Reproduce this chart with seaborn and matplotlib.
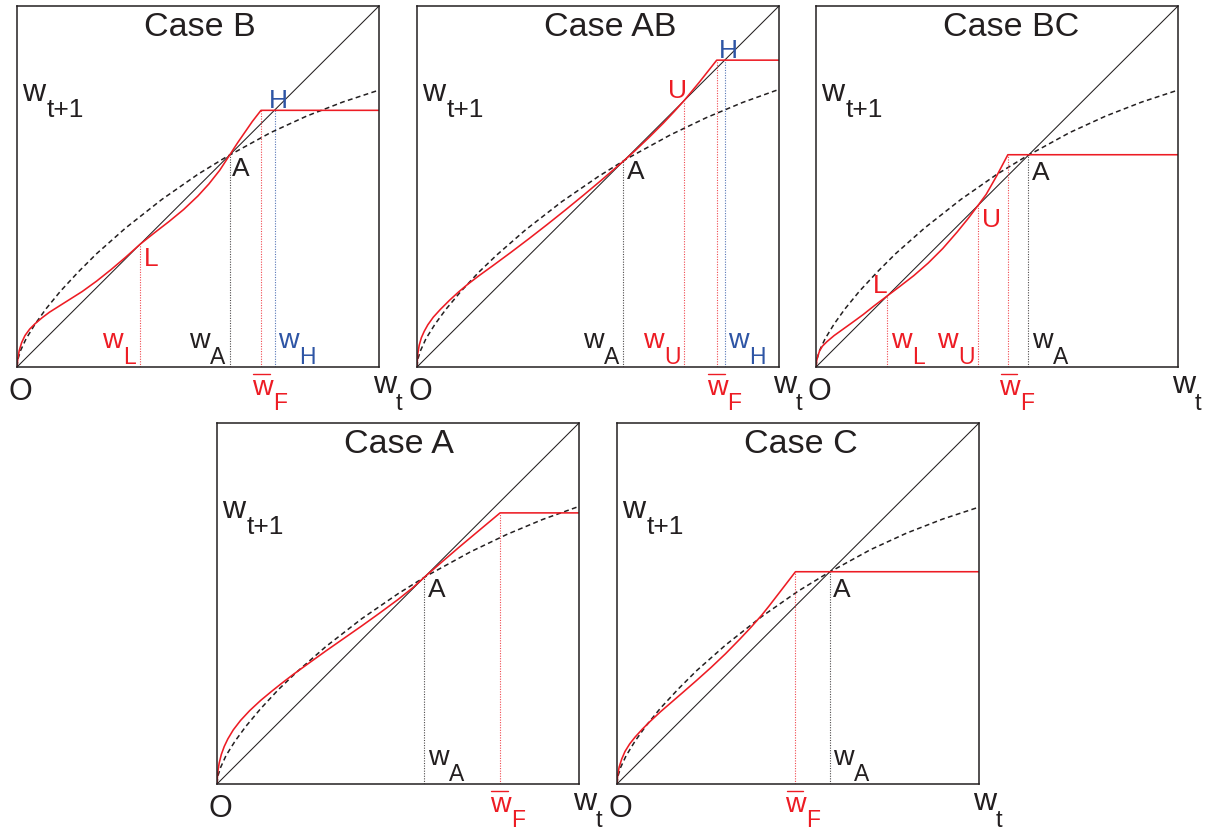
import matplotlib
matplotlib.use("Agg")
import matplotlib.pyplot as plt
import seaborn as sns

sns.set_theme(style="white")
plt.rcParams['font.family'] = ['Liberation Sans', 'DejaVu Sans']

RED = "#ed1c24"
BLUE = "#2e55a5"
INK = "#231f20"

# 45 degree line and the dashed benchmark map
diag_x = [0.0, 1.0]
diag_y = [0.0, 1.0]
dashed_u = [0, 0.003, 0.01, 0.025, 0.05, 0.08, 0.12, 0.17, 0.22, 0.3, 0.4, 0.5, 0.58, 0.7, 0.8, 0.9, 1.0]
dashed_hi = [0, 0.023, 0.046, 0.078, 0.119, 0.161, 0.210, 0.264, 0.314, 0.385, 0.464, 0.534, 0.583, 0.649, 0.695, 0.734, 0.767]
dashed_lo = [0, 0.024, 0.046, 0.079, 0.119, 0.160, 0.208, 0.262, 0.310, 0.380, 0.458, 0.527, 0.577, 0.643, 0.691, 0.733, 0.769]

# red maps, one per case
red_B_x = [0, 0.002, 0.006, 0.013, 0.022, 0.035, 0.05, 0.07, 0.09, 0.12, 0.15, 0.18, 0.22, 0.26, 0.30,
           0.34, 0.38, 0.42, 0.46, 0.50, 0.53, 0.56, 0.588, 0.61, 0.63, 0.65, 0.674, 1.0]
red_B_y = [0, 0.02, 0.045, 0.068, 0.087, 0.105, 0.12, 0.137, 0.152, 0.171, 0.19, 0.209, 0.238, 0.27, 0.304,
           0.34, 0.372, 0.403, 0.436, 0.474, 0.507, 0.545, 0.588, 0.622, 0.651, 0.68, 0.711, 0.711]

red_AB_x = [0, 0.002, 0.006, 0.012, 0.02, 0.03, 0.045, 0.065, 0.09, 0.115, 0.14, 0.17, 0.21, 0.26, 0.31,
            0.36, 0.41, 0.46, 0.51, 0.54, 0.57, 0.6, 0.64, 0.68, 0.71, 0.737, 0.78, 0.828, 1.0]
red_AB_y = [0, 0.035, 0.06, 0.081, 0.099, 0.117, 0.138, 0.16, 0.185, 0.208, 0.229, 0.252, 0.281, 0.318, 0.356,
            0.395, 0.435, 0.476, 0.518, 0.544, 0.57, 0.597, 0.635, 0.675, 0.707, 0.737, 0.789, 0.85, 0.85]

red_BC_x = [0, 0.002, 0.005, 0.01, 0.018, 0.03, 0.05, 0.075, 0.1, 0.13, 0.16, 0.197, 0.23, 0.27, 0.31,
            0.35, 0.39, 0.42, 0.4475, 0.47, 0.5, 0.53, 1.0]
red_BC_y = [0, 0.018, 0.03, 0.045, 0.058, 0.07, 0.087, 0.105, 0.123, 0.145, 0.169, 0.197, 0.222, 0.253, 0.288,
            0.328, 0.374, 0.411, 0.4475, 0.478, 0.531, 0.588, 0.588]

red_A_x = [0, 0.002, 0.006, 0.012, 0.02, 0.03, 0.045, 0.065, 0.09, 0.12, 0.15, 0.18, 0.21, 0.25, 0.3,
           0.35, 0.4, 0.45, 0.5, 0.54, 0.573, 0.62, 0.67, 0.72, 0.782, 1.0]
red_A_y = [0, 0.032, 0.058, 0.082, 0.104, 0.125, 0.15, 0.176, 0.203, 0.231, 0.256, 0.28, 0.303, 0.332, 0.368,
           0.403, 0.438, 0.474, 0.511, 0.543, 0.573, 0.614, 0.657, 0.699, 0.751, 0.751]

red_C_x = [0, 0.002, 0.006, 0.013, 0.022, 0.035, 0.05, 0.07, 0.09, 0.12, 0.15, 0.18, 0.22, 0.26, 0.3,
           0.34, 0.37, 0.4, 0.42, 0.46, 0.493, 1.0]
red_C_y = [0, 0.025, 0.047, 0.069, 0.09, 0.111, 0.13, 0.152, 0.172, 0.2, 0.226, 0.252, 0.287, 0.323, 0.361,
           0.402, 0.434, 0.468, 0.493, 0.545, 0.588, 0.588]

# threshold lines: (x, top, colour)
cut_B = [(0.339, 0.339, RED), (0.588, 0.588, INK), (0.673, 0.711, RED), (0.712, 0.712, BLUE)]
cut_AB = [(0.57, 0.57, INK), (0.737, 0.737, RED), (0.828, 0.85, RED), (0.85, 0.85, BLUE)]
cut_BC = [(0.197, 0.197, RED), (0.4475, 0.4475, RED), (0.53, 0.588, RED), (0.587, 0.588, INK)]
cut_A = [(0.573, 0.573, INK), (0.782, 0.751, RED)]
cut_C = [(0.493, 0.588, RED), (0.588, 0.588, INK)]

W = 1215.0
H = 832.0
panels = [
    dict(title="Case B", box=(17, 367), dashed=dashed_hi, rx=red_B_x, ry=red_B_y, cuts=cut_B,
         wlab=[(0.235, "L", RED), (0.475, "A", INK), (0.721, "H", BLUE)], wf=0.649,
         pts=[(0.594, 0.53, "A", INK), (0.351, 0.279, "L", RED), (0.696, 0.718, "H", BLUE)]),
    dict(title="Case AB", box=(417, 367), dashed=dashed_lo, rx=red_AB_x, ry=red_AB_y, cuts=cut_AB,
         wlab=[(0.459, "A", INK), (0.624, "U", RED), (0.86, "H", BLUE)], wf=0.80,
         pts=[(0.58, 0.522, "A", INK), (0.693, 0.746, "U", RED), (0.834, 0.856, "H", BLUE)]),
    dict(title="Case BC", box=(816, 367), dashed=dashed_hi, rx=red_BC_x, ry=red_BC_y, cuts=cut_BC,
         wlab=[(0.207, "L", RED), (0.334, "U", RED), (0.597, "A", INK)], wf=0.506,
         pts=[(0.597, 0.517, "A", INK), (0.157, 0.204, "L", RED), (0.459, 0.387, "U", RED)]),
    dict(title="Case A", box=(217, 784), dashed=dashed_lo, rx=red_A_x, ry=red_A_y, cuts=cut_A,
         wlab=[(0.583, "A", INK)], wf=0.754,
         pts=[(0.583, 0.517, "A", INK)]),
    dict(title="Case C", box=(617, 784), dashed=dashed_hi, rx=red_C_x, ry=red_C_y, cuts=cut_C,
         wlab=[(0.596, "A", INK)], wf=0.465,
         pts=[(0.596, 0.517, "A", INK)]),
]

fig = plt.figure(figsize=(W / 100, H / 100), dpi=100)
fig.patch.set_facecolor("white")

for p in panels:
    left, bottom = p["box"]
    ax = fig.add_axes([left / W, (H - bottom) / H, 362 / W, 361 / H])
    ax.set_xlim(0, 1)
    ax.set_ylim(0, 1)
    ax.set_xticks([])
    ax.set_yticks([])
    for s in ax.spines.values():
        s.set_color(INK)
        s.set_linewidth(1.1)

    sns.lineplot(x=diag_x, y=diag_y, ax=ax, color=INK, linewidth=0.75, legend=False)
    sns.lineplot(x=dashed_u, y=p["dashed"], ax=ax, color=INK, linewidth=1.1,
                 linestyle=(0, (3.2, 2.2)), sort=False, estimator=None, legend=False)
    for x, top, c in p["cuts"]:
        ax.vlines(x, 0, top, colors=c, linestyles=(0, (1, 1.3)), linewidth=0.8, alpha=0.8)
    sns.lineplot(x=p["rx"], y=p["ry"], ax=ax, color=RED, linewidth=1.15,
                 sort=False, estimator=None, legend=False)

    kw = dict(va="baseline", ha="left", clip_on=False)
    ax.text(0.352, 0.917, p["title"], fontsize=24.5, color=INK, **kw)
    ax.text(0.015, 0.738, "w", fontsize=23, color=INK, **kw)
    ax.text(0.083, 0.692, "t+1", fontsize=19, color=INK, **kw)
    ax.text(0.01, -0.092, "O", fontsize=22, color=INK, va="baseline", ha="center", clip_on=False)
    ax.text(0.983, -0.073, "w", fontsize=23, color=INK, **kw)
    ax.text(1.047, -0.119, "t", fontsize=17, color=INK, **kw)

    for x, sub, c in p["wlab"]:
        ax.text(x, 0.052, "w", fontsize=20.5, color=c, **kw)
        ax.text(x + 0.058, 0.008, sub, fontsize=16.5, color=c, **kw)

    xf = p["wf"]
    ax.text(xf, -0.0776, "w", fontsize=20.5, color=RED, **kw)
    ax.text(xf + 0.058, -0.119, "F", fontsize=16.5, color=RED, **kw)
    ax.plot([xf + 0.004, xf + 0.05], [-0.019, -0.019], color=RED, linewidth=1.0, clip_on=False)

    for x, y, s, c in p["pts"]:
        ax.text(x, y, s, fontsize=19, color=c, **kw)

fig.savefig("out.png", dpi=100, facecolor="white")
